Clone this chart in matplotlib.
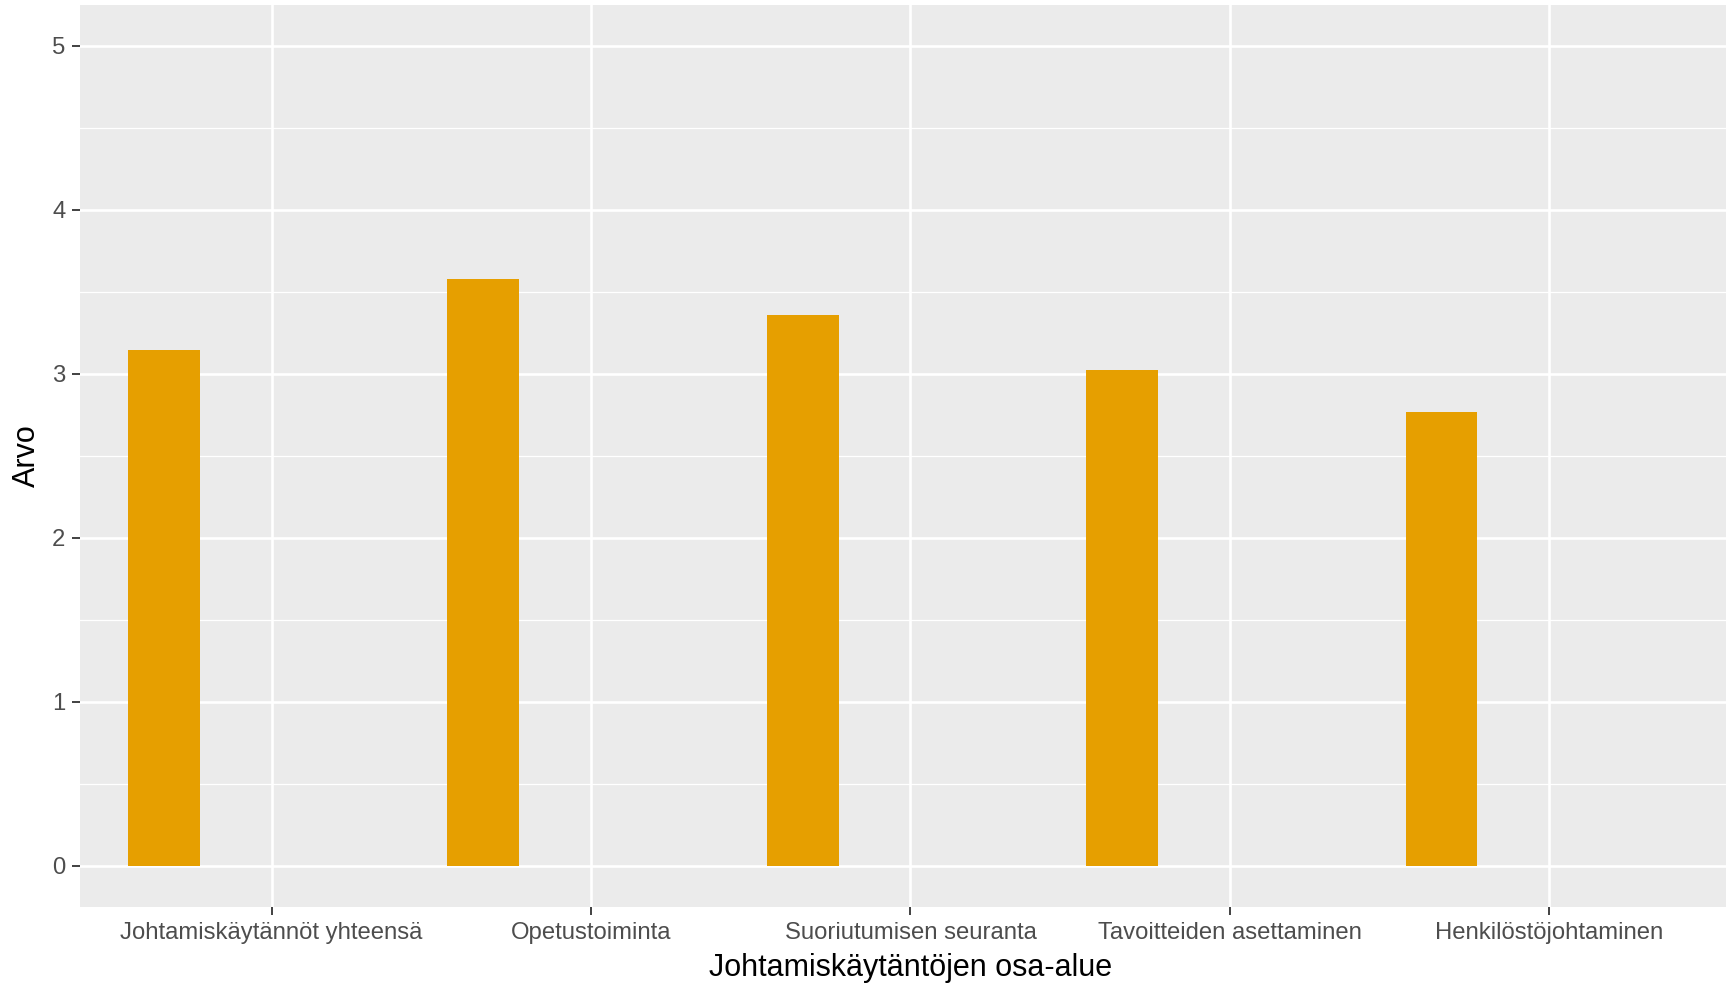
import numpy as np
import matplotlib.pyplot as plt
from matplotlib.ticker import MultipleLocator

plt.rcParams['font.family'] = ['Liberation Sans', 'DejaVu Sans']

categories = ["Johtamiskäytännöt yhteensä", "Opetustoiminta", "Suoriutumisen seuranta",
              "Tavoitteiden asettaminen", "Henkilöstöjohtaminen"]
values = [3.148, 3.580, 3.362, 3.022, 2.770]
y_ticks = [0, 1, 2, 3, 4, 5]

W, H = 1726, 985
fig = plt.figure(figsize=(W / 100, H / 100), dpi=100)
# panel: left at 80px, top at 5px, bottom at 907px; one category = 319.4px
left, top, bottom = 80, 5, 907
unit = 319.4
ax = fig.add_axes([left / W, (H - bottom) / H, 5.2 * unit / W, (bottom - top) / H])

x = np.arange(1, len(categories) + 1)
# dodged bars: 4 groups in width 0.9, only the first one has data
bw = 0.9 / 4
ax.bar(x - 0.9 / 2 + bw / 2, values, width=bw, color="#E69F00", zorder=3)

ax.set_facecolor("#EBEBEB")
ax.set_xlim(0.4, 5.6)
ax.set_ylim(-0.25, 5.25)
ax.set_xticks(x)
ax.set_xticklabels(categories)
ax.set_yticks(y_ticks)
ax.yaxis.set_minor_locator(MultipleLocator(0.5))
ax.grid(which="major", color="white", linewidth=1.9, zorder=1)
ax.grid(which="minor", axis="y", color="white", linewidth=0.9, zorder=1)
for s in ax.spines.values():
    s.set_visible(False)
ax.tick_params(which="major", length=6, width=1.3, color="#333333",
               labelcolor="#4D4D4D", labelsize=17.2, pad=4.5)
ax.tick_params(which="minor", length=0)

ax.set_xlabel("Johtamiskäytäntöjen osa-alue", fontsize=22, color="black", labelpad=7)
ax.set_ylabel("Arvo", fontsize=22, color="black", labelpad=7)

fig.savefig("out.png", dpi=100)
